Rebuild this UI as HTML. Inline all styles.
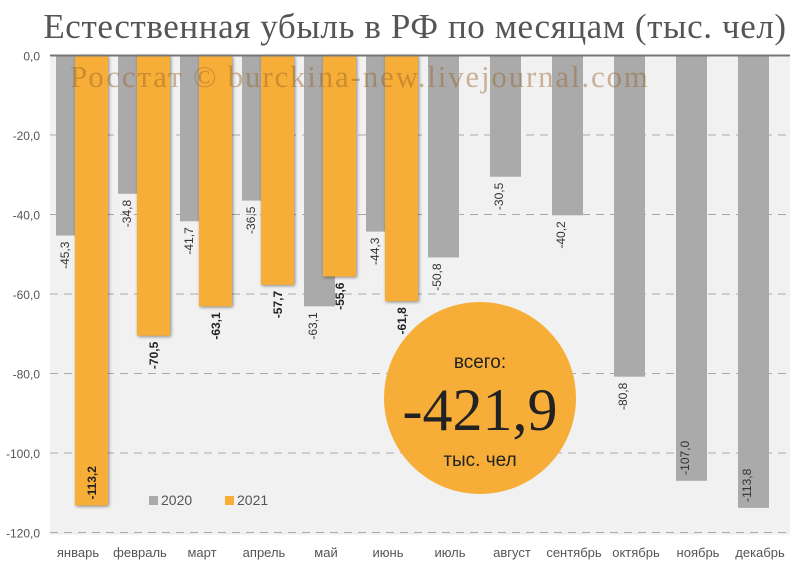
<!DOCTYPE html>
<html><head><meta charset="utf-8"><style>
body{margin:0;background:#fff;}
svg text{font-family:"Liberation Sans",sans-serif;}
</style></head><body>
<svg width="800" height="572" xmlns="http://www.w3.org/2000/svg">
<text x="415" y="38" text-anchor="middle" font-size="35" letter-spacing="0.6" fill="#555" style="font-family:'Liberation Serif',serif">Естественная убыль в РФ по месяцам (тыс. чел)</text>
<rect x="50" y="55" width="740" height="480" fill="#f1f1f1"/>
<g id="grid"></g>
<g id="bars"></g>
<line x1="50" y1="55.5" x2="790" y2="55.5" stroke="#777" stroke-width="2"/>
<text x="70" y="87" font-size="31" letter-spacing="1.8" fill="rgba(150,100,40,0.45)" style="font-family:'Liberation Serif',serif">Росстат © burckina-new.livejournal.com</text>
<g>
<circle cx="480" cy="398" r="96" fill="#f7ae38"/>
<text x="480" y="368" text-anchor="middle" font-size="19" fill="#222">всего:</text>
<text x="480" y="430" text-anchor="middle" font-size="60" fill="#222" style="font-family:'Liberation Serif',serif">-421,9</text>
<text x="480" y="466" text-anchor="middle" font-size="19" fill="#222">тыс. чел</text>
</g>
<g>
<rect x="149" y="496" width="9" height="9" fill="#aaa"/>
<text x="161" y="505" font-size="14" fill="#555">2020</text>
<rect x="225" y="496" width="9" height="9" fill="#f7ae38"/>
<text x="237" y="505" font-size="14" fill="#555">2021</text>
</g>
<g id="xlabels"></g>
</svg>
<script>
const categories=["январь","февраль","март","апрель","май","июнь","июль","август","сентябрь","октябрь","ноябрь","декабрь"];
const values2020=[-45.3,-34.8,-41.7,-36.5,-63.1,-44.3,-50.8,-30.5,-40.2,-80.8,-107.0,-113.8];
const values2021=[-113.2,-70.5,-63.1,-57.7,-55.6,-61.8];
const yTicks=[0,-20,-40,-60,-80,-100,-120];
const NS="http://www.w3.org/2000/svg";
const y=v=>55.5+(-v)*3.975;
const slot=62, left=50;
const cx=i=>left+slot*i+slot/2;
const fmt=v=>v.toFixed(1).replace('.',',');
function mk(t,a,p){const e=document.createElementNS(NS,t);for(const k in a)e.setAttribute(k,a[k]);p.appendChild(e);return e;}
const grid=document.getElementById('grid');
yTicks.forEach(t=>{
 if(t!==0){const l=mk('line',{x1:50,x2:790,y1:y(t),y2:y(t),stroke:'#aaa','stroke-dasharray':'8,6'},grid);
 
 }
 const tx=mk('text',{x:40,y:y(t)+5,'text-anchor':'end','font-size':12,fill:'#555'},grid);
 
 
 tx.textContent=fmt(t);
});
const bars=document.getElementById('bars');
function label(x,v,bold,fill){
 const yb=y(v);let ty,anchor;
 if(v<-100){ty=yb-6;anchor='start';}else{ty=yb+6;anchor='end';}
 const t=mk('text',{x:x,y:ty,'font-size':12,fill:fill,'font-weight':bold?'bold':'normal','text-anchor':anchor,transform:`rotate(-90 ${x} ${ty})`},bars);
 
 
 t.textContent=fmt(v);
}
values2020.forEach((v,i)=>{
 const x=cx(i)-25;
 const r=mk('rect',{x:x,y:55.5,width:31,height:y(v)-55.5,fill:'#aaaaaa'},bars);
 
 
 label(x+13,v,false,'#333');
});
values2021.forEach((v,i)=>{
 const x=cx(i)-6;
 const r=mk('rect',{x:x,y:55.5,width:33,height:y(v)-55.5,fill:'#f7ae38',style:'filter:drop-shadow(1px 1px 1.5px rgba(0,0,0,0.45))'},bars);
 
 
 label(x+21,v,true,'#222');
});
const xl=document.getElementById('xlabels');
categories.forEach((c,i)=>{
 const t=mk('text',{x:cx(i)-3,y:557,'text-anchor':'middle','font-size':13,fill:'#555'},xl);
 
 
 t.textContent=c;
});
</script>
</body></html>
